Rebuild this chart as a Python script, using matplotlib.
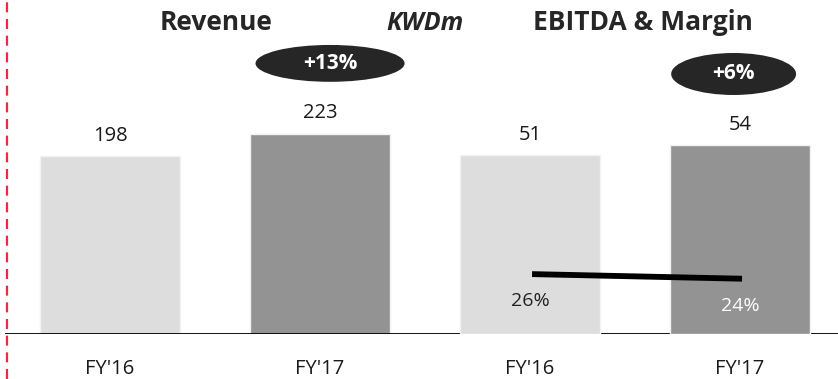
import matplotlib
matplotlib.use("Agg")
import matplotlib.pyplot as plt
from matplotlib.patches import Ellipse
from matplotlib.lines import Line2D

plt.rcParams['font.family'] = ['Open Sans', 'DejaVu Sans']

# Data (KWD millions)
periods = ["FY'16", "FY'17"]
revenue = [198, 223]
ebitda = [51, 54]
margin_pct = [26, 24]
bar_colors = ["#DDDDDD", "#939393"]
margin_label_colors = ["#222222", "#FFFFFF"]

W, H = 838, 379
fig = plt.figure(figsize=(W / 100, H / 100), dpi=100)

# Main axes: baseline sits 45 px above the bottom edge
ax = fig.add_axes([5 / W, 45 / H, 833 / W, 334 / H])
ax_e = ax.twinx()
ax_m = ax.twinx()

x_rev = [0, 1]
x_ebt = [2, 3]
bw = 0.667

ax.set_xlim(-0.5, 3.467)
ax.set_ylim(0, 371.5)
ax_e.set_ylim(0, 95.4)
ax_m.set_ylim(0, 145)

ax.bar(x_rev, revenue, width=bw, color=bar_colors, edgecolor="#F2F2F2", linewidth=1, zorder=2)
ax_e.bar(x_ebt, ebitda, width=bw, color=bar_colors, edgecolor="#F2F2F2", linewidth=1, zorder=2)

for xi, v in zip(x_rev, revenue):
    ax.annotate(f"{v}", (xi, v), xytext=(0, 7.5), textcoords="offset points",
                ha="center", va="bottom", fontsize=14.5, color="#1A1A1A")
for xi, v in zip(x_ebt, ebitda):
    ax_e.annotate(f"{v}", (xi, v), xytext=(0, 7.5), textcoords="offset points",
                  ha="center", va="bottom", fontsize=14.5, color="#1A1A1A")

# EBITDA margin line
ax_m.plot([x_ebt[0] + 0.01, x_ebt[1] + 0.01], margin_pct, color="black", lw=4.2,
          solid_capstyle="butt", zorder=5)
for xi, m, c in zip(x_ebt, margin_pct, margin_label_colors):
    ax_m.annotate(f"{m}%", (xi, m), xytext=(0, -19.5), textcoords="offset points",
                  ha="center", va="center", fontsize=14, color=c)

# Growth bubbles
rev_growth = round((revenue[1] / revenue[0] - 1) * 100)
ebt_growth = round((ebitda[1] / ebitda[0] - 1) * 100)
for cx, cy, w, h, g in [(1.048, 301.0, 0.71, 41.0, rev_growth),
                        (2.97, 289.2, 0.595, 46.7, ebt_growth)]:
    ax.add_patch(Ellipse((cx, cy), w, h, facecolor="#262626", edgecolor="none",
                         zorder=6, clip_on=False))
    ax.text(cx, cy, f"+{g}%", ha="center", va="center", fontsize=15,
            fontweight="bold", color="white", zorder=7)

# Baseline and ticks
ax.axhline(0, color="black", lw=1.3, zorder=4)
ax.set_xticks(x_rev + x_ebt)
ax.set_xticklabels(periods + periods, fontsize=14.5, color="#1A1A1A")
ax.tick_params(axis="x", length=0, pad=18)
for a in (ax, ax_e, ax_m):
    a.set_yticks([])
    for s in a.spines.values():
        s.set_visible(False)
ax.patch.set_visible(False)

# Headers
fig.text(216 / W, 1 - 23 / H, "Revenue", ha="center", va="center",
         fontsize=19, fontweight="bold", color="#262626")
fig.text(425 / W, 1 - 23 / H, "KWDm", ha="center", va="center",
         fontsize=18, fontweight="bold", fontstyle="italic", color="#262626")
fig.text(643 / W, 1 - 23 / H, "EBITDA & Margin", ha="center", va="center",
         fontsize=19, fontweight="bold", color="#262626")

# Red dashed divider on the left
fig.add_artist(Line2D([7 / W, 7 / W], [0, 1], transform=fig.transFigure,
                      color="#EE2B36", lw=1.6, linestyle=(0, (4.5, 3))))

fig.savefig("out.png", dpi=100)
